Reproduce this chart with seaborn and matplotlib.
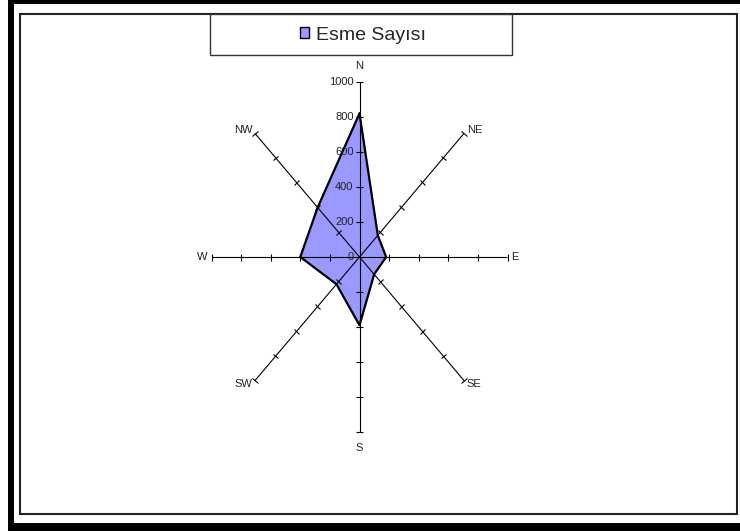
import numpy as np
import matplotlib
matplotlib.use("Agg")
import matplotlib.pyplot as plt
from matplotlib.patches import Rectangle, Patch
from matplotlib.collections import LineCollection
from matplotlib.transforms import IdentityTransform
import seaborn as sns

# Data
directions = ['N', 'NE', 'E', 'SE', 'S', 'SW', 'W', 'NW']
counts = [820, 175, 180, 140, 390, 220, 400, 400]
tick_values = [200, 400, 600, 800, 1000]
tick_labels = ['0', '200', '400', '600', '800', '1000']
series_name = 'Esme Sayısı'

sns.set_theme(style='white')
plt.rcParams['font.family'] = ['Liberation Sans', 'DejaVu Sans']

W, H = 740, 531
fig = plt.figure(figsize=(W / 100, H / 100), dpi=100)
fig.patch.set_facecolor('white')


def px_rect(x0, y0, x1, y1, **kw):
    # rectangle given in pixel coords measured from the top-left corner
    return Rectangle((x0 / W, 1 - y1 / H), (x1 - x0) / W, (y1 - y0) / H,
                     transform=fig.transFigure, **kw)


# outer frame bands and inner thin border
for r in [(8, 0, 14, 531), (8, 0, 740, 4), (8, 523, 740, 531)]:
    fig.add_artist(px_rect(*r, facecolor='black', edgecolor='none'))
fig.add_artist(px_rect(20, 14, 737, 514, facecolor='none', edgecolor='#222222', lw=1.5))

# polar axes stretched into an ellipse like the Excel radar chart
cx, cy, rx, ry = 359.5, 257, 148, 175
ax = fig.add_axes([(cx - rx) / W, 1 - (cy + ry) / H, 2 * rx / W, 2 * ry / H],
                  projection='polar')
ax.set_theta_zero_location('N')
ax.set_theta_direction(-1)
ax.set_aspect('auto')
ax.set_ylim(0, 1000)
ax.axis('off')

theta = np.deg2rad(np.arange(len(directions)) * 360 / len(directions))
t_closed = np.append(theta, theta[0] + 2 * np.pi)
c_closed = np.append(counts, counts[0])

ax.fill(t_closed, c_closed, color='#9999FF', zorder=1)
sns.lineplot(x=t_closed, y=c_closed, sort=False, estimator=None, ax=ax,
             color='black', lw=1.6, zorder=3)

fig.canvas.draw()
tick_segs = []
for t, name in zip(theta, directions):
    ax.plot([t, t], [0, 1000], color='black', lw=0.8, zorder=2)
    # screen-space direction of this spoke; ticks cross it at right angles
    p0 = ax.transData.transform((t, 0))
    p1 = ax.transData.transform((t, 1000))
    ux, uy = (p1 - p0) / np.hypot(*(p1 - p0))
    nx, ny = -uy, ux
    for v in tick_values:
        px, py = ax.transData.transform((t, v))
        tick_segs.append([(px - 3.5 * nx, py - 3.5 * ny), (px + 3.5 * nx, py + 3.5 * ny)])
    ha = 'center' if abs(ux) < 0.1 else ('left' if ux > 0 else 'right')
    va = 'center' if abs(uy) < 0.9 else ('bottom' if uy > 0 else 'top')
    off = 11 if ha == 'center' else 4
    ax.annotate(name, xy=(t, 1000), xytext=(ux * off, uy * off),
                textcoords='offset pixels', ha=ha, va=va, fontsize=8,
                color='#222222', annotation_clip=False)

ticks = LineCollection(tick_segs, colors='black', linewidths=0.8,
                       transform=IdentityTransform(), zorder=2, snap=True)
ticks.set_clip_on(False)
ax.add_collection(ticks, autolim=False)

# value labels on the N spoke
for v, lab in zip([0] + tick_values, tick_labels):
    ax.annotate(lab, xy=(0, v), xytext=(-6, 0), textcoords='offset pixels',
                ha='right', va='center', fontsize=8, color='#222222',
                annotation_clip=False)

# legend box at the top
fig.add_artist(px_rect(210, 14, 512, 55, facecolor='white', edgecolor='#333333', lw=1))
handle = Patch(facecolor='#9999FF', edgecolor='black', lw=1)
fig.legend([handle], [series_name], loc='center', bbox_to_anchor=(363 / W, 1 - 35 / H),
           frameon=False, fontsize=14, handlelength=0.5, handleheight=0.5,
           handletextpad=0.35)

fig.savefig('out.png', dpi=100)
